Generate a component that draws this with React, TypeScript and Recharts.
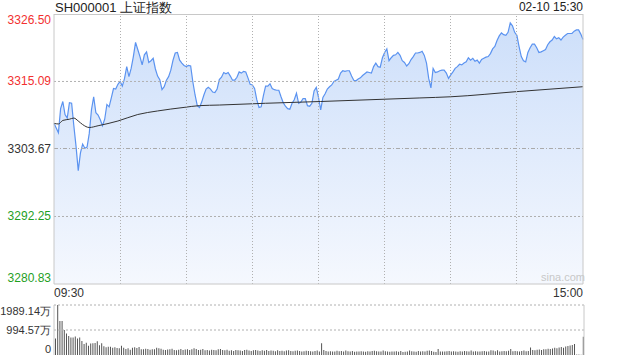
import { ComposedChart, Area, Line, XAxis, YAxis, ReferenceLine, BarChart, Bar } from 'recharts'

const title = 'SH000001 上证指数'
const stamp = '02-10 15:30'
const prevClose = 3303.67
const priceLevels = [3326.5, 3315.09, 3303.67, 3292.25, 3280.83]
const pctLabels = ['+0.69%', '+0.35%', '0.00%', '-0.35%', '-0.69%']
const timeLabels = ['09:30', '15:00']
const gridMinutes = [30, 60, 90, 120, 150, 180, 210]
const volTicks = [0, 994.57, 1989.14]
const volLabels = ['0', '994.57万', '1989.14万']

// one value per minute, 09:30 .. 15:00 (241 points)
const prices = [
  3308.0, 3307.2, 3306.4, 3310.5, 3311.7, 3309.5, 3308.9, 3311.5, 3311.4, 3307.6,
  3304.1, 3300.0, 3303.0, 3304.5, 3303.8, 3304.0, 3306.3, 3310.3, 3312.5, 3309.8,
  3309.4, 3308.6, 3307.6, 3308.7, 3311.2, 3310.8, 3312.3, 3313.9, 3313.8, 3314.6,
  3315.1, 3314.3, 3315.6, 3317.6, 3315.9, 3317.3, 3319.3, 3321.7, 3320.5, 3319.3,
  3317.9, 3319.6, 3320.1, 3318.3, 3318.6, 3319.0, 3317.2, 3316.0, 3315.4, 3313.7,
  3314.2, 3315.3, 3315.9, 3317.0, 3318.7, 3319.9, 3320.0, 3318.7, 3318.2, 3317.8,
  3317.6, 3317.8, 3317.7, 3315.0, 3312.8, 3311.0, 3310.7, 3311.6, 3312.8, 3313.8,
  3314.1, 3313.8, 3313.3, 3313.2, 3313.8, 3315.4, 3315.8, 3316.6, 3316.4, 3316.6,
  3316.0, 3315.3, 3315.3, 3315.8, 3316.7, 3316.5, 3316.8, 3316.7, 3315.7, 3314.6,
  3314.5, 3313.9, 3312.0, 3310.7, 3310.8, 3312.7, 3314.3, 3314.3, 3314.7, 3313.9,
  3313.7, 3313.6, 3313.6, 3312.5, 3311.5, 3310.9, 3310.5, 3310.4, 3311.4, 3312.0,
  3313.1, 3311.4, 3311.6, 3312.2, 3312.2, 3311.0, 3310.9, 3311.4, 3313.5, 3314.1,
  3312.4, 3310.3, 3312.4, 3313.0, 3313.8, 3314.2, 3314.5, 3315.1, 3315.3, 3315.5,
  3316.5, 3316.9, 3316.8, 3316.9, 3316.9, 3316.0, 3315.3, 3315.2, 3315.5, 3315.7,
  3316.1, 3316.4, 3316.7, 3316.6, 3316.5, 3317.6, 3318.2, 3317.6, 3317.5, 3319.1,
  3320.0, 3320.6, 3318.6, 3319.1, 3319.5, 3319.6, 3320.0, 3319.5, 3318.6, 3318.3,
  3317.7, 3318.1, 3318.8, 3319.3, 3319.9, 3319.9, 3320.0, 3320.2, 3319.5, 3318.2,
  3315.6, 3314.0, 3317.3, 3316.6, 3316.7, 3316.9, 3317.0, 3317.0, 3316.5, 3315.6,
  3316.2, 3316.7, 3317.3, 3317.6, 3318.0, 3317.9, 3318.2, 3318.4, 3319.1, 3318.7,
  3319.0, 3318.5, 3318.7, 3318.2, 3318.8, 3319.0, 3319.2, 3319.3, 3319.8, 3320.6,
  3321.0, 3322.0, 3322.8, 3323.3, 3323.0, 3322.9, 3323.4, 3325.0, 3324.5, 3323.4,
  3322.9, 3321.0, 3319.3, 3318.6, 3318.4, 3320.0, 3320.8, 3321.4, 3321.4, 3320.8,
  3320.0, 3320.1, 3320.3, 3320.5, 3321.3, 3321.8, 3322.1, 3322.7, 3322.3, 3322.5,
  3322.1, 3322.6, 3322.9, 3323.2, 3323.2, 3323.2, 3323.6, 3323.8, 3323.8, 3323.1,
  3322.2,
]

// average price line, read at a few minutes
const avgMinutes = [0, 2, 4, 7, 9, 11, 13, 16, 20, 29, 38, 47, 59, 66, 75, 96, 121, 166, 180, 211, 240]
const avgPrices = [
  3308.0, 3307.9, 3308.5, 3308.7, 3308.9, 3308.4, 3307.8, 3307.3, 3307.6, 3308.4,
  3309.5, 3310.1, 3310.7, 3311.0, 3311.1, 3311.4, 3311.7, 3312.3, 3312.5, 3313.4, 3314.2,
]

// volume per minute, in 万
const volumes = [
  660, 1989, 1350, 1350, 995, 860, 760, 700, 700, 740,
  660, 700, 560, 440, 490, 370, 460, 465, 475, 545,
  385, 465, 345, 305, 330, 330, 290, 305, 280, 265,
  370, 290, 240, 265, 210, 290, 305, 280, 320, 225,
  225, 250, 240, 210, 225, 225, 290, 265, 250, 210,
  200, 215, 225, 250, 200, 185, 210, 240, 200, 215,
  225, 200, 225, 265, 240, 200, 210, 240, 185, 200,
  175, 210, 200, 185, 225, 240, 200, 185, 210, 170,
  185, 160, 200, 185, 175, 160, 200, 210, 175, 160,
  185, 200, 175, 160, 185, 170, 200, 160, 175, 170,
  150, 185, 160, 170, 150, 175, 185, 160, 150, 170,
  175, 160, 140, 150, 170, 160, 150, 135, 160, 175,
  140, 465, 200, 160, 135, 150, 140, 135, 170, 150,
  160, 140, 175, 150, 140, 160, 130, 140, 135, 150,
  135, 130, 150, 140, 160, 170, 150, 140, 135, 175,
  150, 140, 130, 135, 140, 150, 130, 160, 120, 130,
  140, 175, 150, 135, 130, 160, 140, 150, 135, 170,
  175, 160, 130, 120, 240, 140, 135, 140, 150, 160,
  140, 150, 135, 130, 150, 140, 160, 150, 140, 175,
  140, 150, 135, 140, 150, 160, 140, 140, 185, 175,
  150, 185, 140, 150, 160, 145, 165, 240, 150, 160,
  150, 140, 160, 175, 150, 160, 300, 200, 185, 210,
  215, 200, 225, 230, 250, 240, 260, 290, 270, 300,
  320, 290, 335, 360, 380, 400, 440, 20, 15, 10,
  730,
]

const priceData = prices.map((p, i) => ({ i, p }))
const avgData = avgMinutes.map((m, k) => ({ i: m, a: avgPrices[k] }))
const volData = volumes.map((v, i) => ({ i, v }))

const font = '"Liberation Sans", Arial, sans-serif'
const upColor = '#f23030'
const downColor = '#1fa01f'
const flatColor = '#333'
const gridColor = '#c8c8c8'
const dotColor = '#b0b0b0'

const tone = (v: number) => (v > prevClose ? upColor : v < prevClose ? downColor : flatColor)
const topLevel = priceLevels[0]
const bottomLevel = priceLevels[priceLevels.length - 1]
const shift = (v: number) => (v === topLevel ? 6 : v === bottomLevel ? -6 : 0)

function LeftTick(props: any) {
  const { x, y, payload } = props
  const v = payload.value
  return (
    <text x={x} y={y + shift(v) + 4} textAnchor="end" fill={tone(v)} fontSize={12} fontFamily={font}>
      {v.toFixed(2)}
    </text>
  )
}

function RightTick(props: any) {
  const { x, y, payload } = props
  const v = payload.value
  return (
    <text x={x} y={y + shift(v) + 4} textAnchor="start" fill={tone(v)} fontSize={12} fontFamily={font}>
      {pctLabels[priceLevels.indexOf(v)]}
    </text>
  )
}

function TimeTick(props: any) {
  const { x, y, payload } = props
  const first = payload.value === 0
  return (
    <text x={x} y={y + 13} textAnchor={first ? 'start' : 'end'} fill="#333" fontSize={12} fontFamily={font}>
      {first ? timeLabels[0] : timeLabels[1]}
    </text>
  )
}

function VolTick(props: any) {
  const { x, y, payload } = props
  const v = payload.value
  const k = volTicks.indexOf(v)
  const dy = k === volTicks.length - 1 ? 6 : k === 0 ? -6 : 0
  return (
    <text x={x} y={y + dy + 4} textAnchor="end" fill="#333" fontSize={11} fontFamily={font}>
      {volLabels[k]}
    </text>
  )
}

export default function App() {
  return (
    <div style={{ position: 'absolute', left: 0, top: 0, width: 640, height: 360, background: '#fff', fontFamily: font }}>
      <div style={{ position: 'absolute', left: 55, top: -1, fontSize: 13, color: '#222', whiteSpace: 'nowrap' }}>{title}</div>
      <div style={{ position: 'absolute', right: 57, top: 0, fontSize: 12, color: '#222' }}>{stamp}</div>

      <div style={{ position: 'absolute', left: 0, top: 0 }}>
        <ComposedChart width={640} height={300} margin={{ top: 14, right: 0, bottom: 0, left: 0 }}>
          <defs>
            <linearGradient id="pg" x1="0" y1="0" x2="0" y2="1">
              <stop offset="0%" stopColor="#cddffa" />
              <stop offset="100%" stopColor="#f5f8fe" />
            </linearGradient>
          </defs>
          <XAxis
            xAxisId="t"
            dataKey="i"
            type="number"
            domain={[0, 240]}
            ticks={[0, 240]}
            interval={0}
            height={16}
            tickSize={0}
            tickMargin={0}
            tickLine={false}
            axisLine={{ stroke: gridColor }}
            tick={TimeTick}
          />
          <YAxis
            yAxisId="L"
            domain={[bottomLevel, topLevel]}
            ticks={priceLevels}
            interval={0}
            width={54}
            tickSize={0}
            tickMargin={3}
            tickLine={false}
            axisLine={{ stroke: gridColor }}
            tick={LeftTick}
          />
          <YAxis
            yAxisId="R"
            orientation="right"
            domain={[bottomLevel, topLevel]}
            ticks={priceLevels}
            interval={0}
            width={57}
            tickSize={0}
            tickMargin={6}
            tickLine={false}
            axisLine={{ stroke: gridColor }}
            tick={RightTick}
          />
          <Area
            xAxisId="t"
            yAxisId="L"
            data={priceData}
            dataKey="p"
            type="linear"
            baseValue="dataMin"
            stroke="#5b93f0"
            strokeWidth={1.2}
            fill="url(#pg)"
            fillOpacity={1}
            dot={false}
            activeDot={false}
            isAnimationActive={false}
          />
          <Line
            xAxisId="t"
            yAxisId="L"
            data={avgData}
            dataKey="a"
            type="monotone"
            stroke="#333"
            strokeWidth={1}
            dot={false}
            activeDot={false}
            isAnimationActive={false}
          />
          {gridMinutes.map((m) => (
            <ReferenceLine key={m} xAxisId="t" yAxisId="L" x={m} stroke={dotColor} strokeDasharray="1 2" shapeRendering="crispEdges" />
          ))}
          <ReferenceLine xAxisId="t" yAxisId="L" y={priceLevels[1]} stroke={dotColor} strokeDasharray="2 2" />
          <ReferenceLine xAxisId="t" yAxisId="L" y={priceLevels[3]} stroke={dotColor} strokeDasharray="2 2" />
          <ReferenceLine xAxisId="t" yAxisId="L" y={prevClose} stroke="#aaa" strokeDasharray="4 2 1 2" shapeRendering="crispEdges" />
          <ReferenceLine xAxisId="t" yAxisId="L" y={topLevel} stroke={gridColor} shapeRendering="crispEdges" />
        </ComposedChart>
      </div>

      <div style={{ position: 'absolute', left: 541, top: 271, fontSize: 11, color: '#c8c8c8' }}>sina.com</div>

      <div style={{ position: 'absolute', left: 0, top: 298 }}>
        <BarChart width={640} height={62} data={volData} margin={{ top: 7, right: 0, bottom: 5, left: 0 }} barCategoryGap={0}>
          <XAxis dataKey="i" hide />
          <YAxis
            yAxisId="v"
            domain={[0, volTicks[2]]}
            ticks={volTicks}
            interval={0}
            width={54}
            tickSize={0}
            tickMargin={3}
            tickLine={false}
            axisLine={{ stroke: gridColor }}
            tick={VolTick}
          />
          <YAxis yAxisId="r" orientation="right" domain={[0, volTicks[2]]} width={56} tick={false} tickLine={false} axisLine={{ stroke: gridColor }} />
          <ReferenceLine yAxisId="v" y={volTicks[2]} stroke={dotColor} strokeDasharray="2 2" />
          <ReferenceLine yAxisId="v" y={volTicks[1]} stroke={dotColor} strokeDasharray="2 2" />
          <Bar yAxisId="v" dataKey="v" fill="#555" barSize={1} isAnimationActive={false} />
        </BarChart>
      </div>
    </div>
  )
}
